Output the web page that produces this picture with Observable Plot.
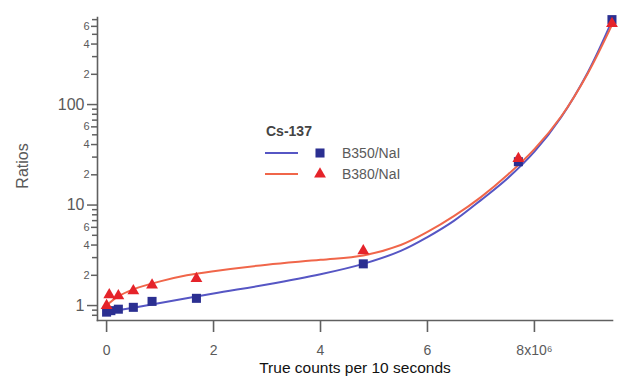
<!DOCTYPE html>
<html>
<head>
<meta charset="utf-8">
<script src="https://cdn.jsdelivr.net/npm/d3@7"></script>
<script src="https://cdn.jsdelivr.net/npm/@observablehq/plot@0.6"></script>
<style>
  html, body { margin: 0; padding: 0; background: #fff; }
  #wrap { position: relative; width: 618px; height: 378px; font-family: "Liberation Sans", Arial, sans-serif; }
  #legend { position: absolute; left: 262px; top: 118px; }
</style>
</head>
<body>
<div id="wrap"><div id="chart"></div><div id="legend"></div></div>
<script>
// Measured points (x in millions of true counts per 10 s)
const b350X = [0.0, 0.08, 0.22, 0.5, 0.85, 1.68, 4.8, 7.7, 9.45];
const b350Y = [0.86, 0.89, 0.92, 0.96, 1.1, 1.18, 2.6, 27, 700];
const b380X = [0.0, 0.05, 0.22, 0.5, 0.85, 1.68, 4.8, 7.7, 9.45];
const b380Y = [1.0, 1.28, 1.25, 1.4, 1.6, 1.85, 3.5, 29, 640];

// Fitted curves
const fitBlueX = [0.0, 0.5, 1, 2, 3, 4, 4.8, 5.5, 6, 6.5, 7, 7.5, 8, 8.5, 9, 9.45];
const fitBlueY = [0.86, 0.95, 1.06, 1.32, 1.62, 2.05, 2.6, 3.5, 4.8, 7.0, 11.2, 18.5, 34, 75, 210, 680];
const fitRedX  = [0.0, 0.2, 0.5, 1, 1.5, 2, 3, 4, 4.8, 5.5, 6, 6.5, 7, 7.5, 8, 8.5, 9, 9.45];
const fitRedY  = [1.0, 1.22, 1.45, 1.74, 2.0, 2.2, 2.55, 2.85, 3.15, 4.0, 5.4, 7.8, 12, 20, 36, 76, 205, 620];

const xTicks = [0, 2, 4, 6, 8];
const xTickLabels = ["0", "2", "4", "6", "8x10\u2076"];
const yMajor = [1, 10, 100];
const yMinorLabeled = [2, 4, 6, 20, 40, 60, 200, 400, 600];
const yMinorLabels = ["2", "4", "6", "2", "4", "6", "2", "4", "6"];
const yMinor = [0.8, 0.9, 3, 5, 7, 8, 9, 30, 50, 70, 80, 90, 300, 500, 700];
const yDomain = [0.71, 735];

const seriesNames = ["B350/NaI", "B380/NaI"];
const legendTitle = "Cs-137";
const xTitle = "True counts per 10 seconds";
const yTitle = "Ratios";

const blueDot = "#2b2f91", redDot = "#e5232a";
const blueLine = "#5656c4", redLine = "#f0664a";
const axisGray = "#606060", textGray = "#5a5a5a";

// y is placed on a linear scale of log10(value): a logarithmic axis
const L = Math.log10;
const pts = (xs, ys) => xs.map((x, i) => ({x, y: ys[i]}));

const chart = Plot.plot({
  width: 618,
  height: 378,
  marginLeft: 97,
  marginRight: 6,
  marginTop: 17,
  marginBottom: 58,
  style: {fontFamily: "Liberation Sans, Arial, sans-serif", background: "transparent"},
  x: {domain: [-0.17, 9.46]},
  y: {type: "linear", domain: yDomain.map(L)},
  marks: [
    Plot.line(pts(fitBlueX, fitBlueY), {x: "x", y: d => L(d.y), stroke: blueLine, strokeWidth: 2, curve: "catmull-rom"}),
    Plot.line(pts(fitRedX, fitRedY), {x: "x", y: d => L(d.y), stroke: redLine, strokeWidth: 2, curve: "catmull-rom"}),
    Plot.dot(pts(b350X, b350Y), {x: "x", y: d => L(d.y), symbol: "square", r: 5.1, fill: blueDot, stroke: "none"}),
    Plot.dot(pts(b380X, b380Y), {x: "x", y: d => L(d.y), symbol: "triangle", r: 4.4, fill: redDot, stroke: "none"}),
    Plot.frame({anchor: "left", stroke: axisGray, strokeWidth: 1.6}),
    Plot.frame({anchor: "bottom", stroke: axisGray, strokeWidth: 1.6}),
    Plot.axisY(yMajor.map(L), {tickSize: 10, tickPadding: 3, tickFormat: (d, i) => String(yMajor[i]), fontSize: 16, color: textGray, stroke: axisGray, strokeWidth: 1.5, label: null}),
    Plot.axisY(yMinorLabeled.map(L), {tickSize: 6, tickPadding: 2, tickFormat: (d, i) => yMinorLabels[i], fontSize: 11, color: textGray, stroke: axisGray, strokeWidth: 1.5, label: null}),
    Plot.axisY(yMinor.map(L), {tickSize: 5, tickFormat: () => "", stroke: axisGray, strokeWidth: 1.5, label: null}),
    Plot.axisX(xTicks, {tickSize: 12, tickPadding: 13, tickFormat: (d, i) => xTickLabels[i], fontSize: 14, color: textGray, stroke: axisGray, strokeWidth: 1.6, label: null}),
    Plot.text([xTitle], {frameAnchor: "bottom", dy: 48, textAnchor: "middle", lineAnchor: "middle", text: d => d, fontSize: 15.5, fill: "#111"}),
    Plot.text([yTitle], {frameAnchor: "left", dx: -75, dy: -3, textAnchor: "middle", lineAnchor: "middle", rotate: -90, text: d => d, fontSize: 16, fill: textGray})
  ]
});
document.getElementById("chart").appendChild(chart);

// Legend (HTML/SVG overlay)
const lg = d3.select("#legend").append("svg").attr("width", 170).attr("height", 70)
  .style("font-family", "Liberation Sans, Arial, sans-serif");
lg.append("text").attr("x", 4).attr("y", 18).attr("font-size", 14).attr("font-weight", "bold")
  .attr("fill", "#444").text(legendTitle);
const rows = [
  {name: seriesNames[0], line: blueLine, dot: blueDot, sym: d3.symbolSquare, r: 5.1},
  {name: seriesNames[1], line: redLine, dot: redDot, sym: d3.symbolTriangle, r: 4.4}
];
rows.forEach((r, i) => {
  const y = 35 + i * 21;
  lg.append("line").attr("x1", 3).attr("x2", 36).attr("y1", y).attr("y2", y)
    .attr("stroke", r.line).attr("stroke-width", 2);
  lg.append("path").attr("transform", `translate(58,${y})`)
    .attr("d", d3.symbol(r.sym, Math.PI * r.r * r.r)()).attr("fill", r.dot);
  lg.append("text").attr("x", 80).attr("y", y).attr("dy", "0.35em").attr("font-size", 14)
    .attr("fill", textGray).text(r.name);
});
</script>
</body>
</html>
